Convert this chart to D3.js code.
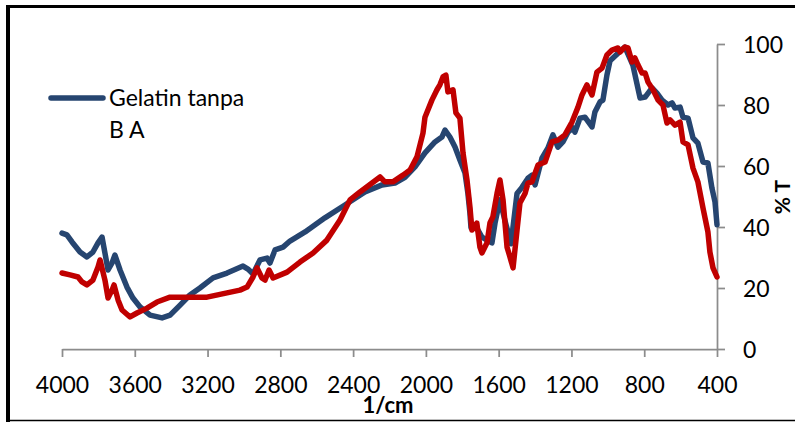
<!DOCTYPE html>
<html>
<head>
<meta charset="utf-8">
<script src="https://cdn.jsdelivr.net/npm/d3@7/dist/d3.min.js"></script>
<style>
  html, body { margin: 0; padding: 0; background: #fff; }
  svg { display: block; }
  text { font-family: Lato, "Open Sans", sans-serif; fill: #000; }
</style>
</head>
<body>
<svg id="chart" width="795" height="422"></svg>
<script>
// FTIR spectra: wavenumber (1/cm) vs transmittance (%T)
const xTicks = [4000, 3600, 3200, 2800, 2400, 2000, 1600, 1200, 800, 400];
const yTicks = [0, 20, 40, 60, 80, 100];

// Gelatin tanpa B A (dark blue)
const plainWave = [4000,3973,3945,3901,3863,3830,3802,3780,3764,3747,3725,3709,3681,3643,3610,3571,3516,3450,3406,3351,3297,3242,3170,3093,3005,2978,2950,2912,2873,2857,2829,2785,2747,2664,2555,2445,2335,2241,2170,2115,2060,2005,1950,1912,1895,1868,1840,1813,1785,1769,1758,1752,1730,1692,1664,1637,1620,1593,1565,1532,1499,1472,1439,1417,1400,1362,1329,1302,1274,1247,1219,1192,1181,1153,1126,1087,1071,1043,1027,1005,988,944,906,862,823,795,757,730,702,669,647,631,603,587,559,532,505,477,450,428,411,400];
const plainT = [38.0,37.4,35.1,31.8,30.2,31.8,34.8,36.7,31.5,25.9,28.2,30.8,25.9,20.3,16.7,13.8,11.1,10.2,11.1,14.4,17.7,20.0,23.3,24.9,27.2,26.2,24.6,29.2,29.8,28.2,32.5,33.4,35.4,38.4,43.0,47.2,51.5,53.8,54.4,56.3,59.7,64.3,67.9,69.5,71.8,69.5,66.2,62.0,57.7,51.0,44.6,39.7,40.7,36.7,35.7,34.8,41.3,48.9,42.0,34.5,51.0,53.0,56.0,57.0,53.8,62.6,65.9,70.2,66.2,67.9,71.1,72.5,71.1,75.7,76.0,72.8,77.7,81.0,81.6,89.8,94.5,97.0,99.0,93.0,82.3,82.6,85.6,83.9,81.6,80.0,80.7,79.0,79.3,76.0,75.7,69.2,67.5,61.3,61.0,52.8,48.2,40.7];

// second sample (red)
const sampleWave = [4000,3956,3912,3890,3863,3830,3802,3791,3764,3747,3725,3714,3692,3670,3626,3588,3533,3478,3406,3313,3203,3093,3022,2983,2950,2928,2901,2884,2862,2840,2763,2692,2620,2544,2472,2417,2362,2252,2225,2181,2126,2087,2049,2016,2005,1967,1939,1923,1906,1890,1879,1851,1835,1813,1796,1774,1758,1747,1720,1703,1692,1664,1648,1632,1609,1593,1576,1554,1538,1521,1499,1483,1455,1439,1417,1384,1345,1307,1274,1236,1197,1164,1142,1115,1087,1060,1032,1005,977,944,933,906,889,867,851,834,812,795,779,751,724,697,675,658,631,603,587,559,532,505,477,450,439,422,400];
const sampleT = [24.9,24.3,23.6,22.0,21.0,22.6,26.9,29.2,22.6,16.7,19.3,21.0,16.1,12.8,10.5,11.8,13.4,15.4,17.0,17.0,17.0,18.4,19.3,20.3,23.6,26.6,23.3,22.6,25.9,23.3,25.2,28.5,31.5,35.7,42.3,48.9,51.5,56.4,54.8,54.8,57.0,58.7,63.0,70.8,76.0,81.6,85.0,86.6,89.2,89.8,84.3,85.0,77.4,75.7,64.3,55.4,46.6,39.0,41.3,33.4,31.5,34.8,41.3,43.3,51.0,55.4,48.9,33.4,30.2,26.6,39.0,47.9,51.0,54.4,54.8,60.3,61.3,67.9,68.5,70.2,74.4,79.3,83.3,86.6,83.3,90.8,92.1,96.4,98.0,98.7,97.4,99.0,98.7,94.1,95.4,93.1,90.5,90.5,87.5,84.9,81.6,80.0,74.1,75.1,73.4,74.4,67.9,66.9,59.3,54.8,46.2,38.4,31.8,26.6,23.6];

const legendLines = ["Gelatin tanpa", "B A"];

const svg = d3.select("#chart");
const axisColor = "#8c8c8c";
const blue = "#264570";
const red = "#c00000";

const x = d3.scaleLinear().domain([4000, 400]).range([62, 717]);
const y = d3.scaleLinear().domain([0, 100]).range([349, 44]);

// outer frame
svg.append("line").attr("x1", 8).attr("x2", 795).attr("y1", 6.5).attr("y2", 6.5)
  .attr("stroke", "#000").attr("stroke-width", 3);
svg.append("line").attr("x1", 8).attr("x2", 8).attr("y1", 5).attr("y2", 422)
  .attr("stroke", "#000").attr("stroke-width", 4);
svg.append("line").attr("x1", 8).attr("x2", 795).attr("y1", 420.5).attr("y2", 420.5)
  .attr("stroke", "#000").attr("stroke-width", 1.5);

// x axis (bottom, ticks pointing down)
const xAxis = d3.axisBottom(x).tickValues(xTicks).tickSize(8).tickSizeOuter(0)
  .tickFormat(d3.format("d"));
const gx = svg.append("g").attr("transform", `translate(0,${y(0)})`).call(xAxis);
gx.select(".domain").attr("stroke", axisColor).attr("stroke-width", 1.75);
gx.selectAll(".tick line").attr("stroke", axisColor).attr("stroke-width", 1.75);
gx.selectAll(".tick text").attr("dy", null).attr("y", 44)
  .style("font-size", "23px").style("font-family", "Lato");

// y axis (right side, ticks pointing right)
const yAxis = d3.axisRight(y).tickValues(yTicks).tickSize(8).tickSizeOuter(0);
const gy = svg.append("g").attr("transform", `translate(${x(400)},0)`).call(yAxis);
gy.select(".domain").attr("stroke", axisColor).attr("stroke-width", 1.75);
gy.selectAll(".tick line").attr("stroke", axisColor).attr("stroke-width", 1.75);
gy.selectAll(".tick text").attr("x", 26).attr("dy", "0.36em")
  .style("font-size", "23px").style("font-family", "Lato");

// axis titles
svg.append("text").attr("x", 388).attr("y", 413).attr("text-anchor", "middle")
  .style("font-size", "22px").style("font-weight", "bold").text("1/cm");
svg.append("text").attr("transform", "translate(790,197) rotate(-90)")
  .attr("text-anchor", "middle").style("font-size", "21px").style("font-weight", "bold")
  .text("% T");

// spectra
const line = d3.line().x(d => x(d[0])).y(d => y(d[1]));
const plainData = plainWave.map((w, i) => [w, plainT[i]]);
const sampleData = sampleWave.map((w, i) => [w, sampleT[i]]);

svg.append("path").datum(plainData).attr("d", line)
  .attr("fill", "none").attr("stroke", blue).attr("stroke-width", 5.5)
  .attr("stroke-linejoin", "round").attr("stroke-linecap", "round");
svg.append("path").datum(sampleData).attr("d", line)
  .attr("fill", "none").attr("stroke", red).attr("stroke-width", 5.5)
  .attr("stroke-linejoin", "round").attr("stroke-linecap", "round");

// legend
svg.append("line").attr("x1", 51).attr("x2", 103).attr("y1", 98).attr("y2", 98)
  .attr("stroke", blue).attr("stroke-width", 5.5).attr("stroke-linecap", "round");
svg.selectAll("text.legend").data(legendLines).join("text").attr("class", "legend")
  .attr("x", 109).attr("y", (d, i) => 106 + i * 32)
  .style("font-size", "23px").text(d => d);
</script>
</body>
</html>
